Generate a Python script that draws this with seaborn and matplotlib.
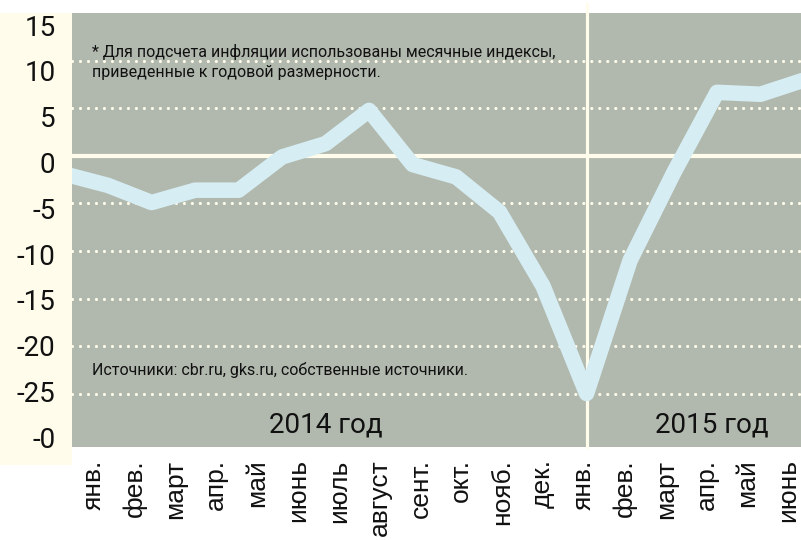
import numpy as np
import pandas as pd
import seaborn as sns
from matplotlib import pyplot as plt

# данные: инфляция по месяцам, 2014-2015
months = ['янв.', 'фев.', 'март', 'апр.', 'май', 'июнь', 'июль', 'август', 'сент.',
          'окт.', 'нояб.', 'дек.', 'янв.', 'фев.', 'март', 'апр.', 'май', 'июнь']
inflation = [-1.9, -3.1, -4.9, -3.6, -3.6, -0.1, 1.3, 4.8, -0.9, -2.2, -5.9, -13.7,
             -25.0, -11.0, -1.8, 6.7, 6.5, 8.0]
grid_levels = [10, 5, -5, -10, -15, -20, -25]
ytick_values = [15, 10, 5, 0, -5, -10, -15, -20, -25, -30]
ytick_labels = ['15', '10', '5', '0', '-5', '-10', '-15', '-20', '-25', '-0']
year_labels = ['2014 год', '2015 год']

bg = '#B1B8AD'
line_color = '#D5EDF3'
cream = '#FFFCEB'
narrow = ['Roboto', 'DejaVu Sans']

sns.set_theme(style='white')
plt.rcParams['font.family'] = ['Liberation Sans', 'DejaVu Sans']

df = pd.DataFrame({'x': np.arange(len(months)), 'value': inflation})

fig = plt.figure(figsize=(8.01, 5.40), dpi=100)

# левая полоса с подписями оси Y
ax_lab = fig.add_axes([0, 75 / 540, 72 / 801, 452 / 540])
ax_lab.set_facecolor(cream)
ax_lab.set_xlim(0, 1)
ax_lab.set_ylim(-32.7, 16.64)
ax_lab.set_xticks([])
ax_lab.set_yticks([])
for s in ax_lab.spines.values():
    s.set_visible(False)
for v, t in zip(ytick_values, ytick_labels):
    ax_lab.text(0.77, v, t, ha='right', va='center', fontsize=20, color='#111111',
                family=narrow)

# основной график
ax = fig.add_axes([72 / 801, 93 / 540, 729 / 801, 434 / 540])
ax.set_facecolor(bg)
for s in ax.spines.values():
    s.set_visible(False)

for g in grid_levels:
    ax.axhline(g, color=cream, lw=2.3, linestyle=(0, (0.001, 2.5)),
               dash_capstyle='round', zorder=1)
ax.axhline(0, color=cream, lw=3, zorder=1)
ax.axvline(12, ymin=0, ymax=1.02, color=cream, lw=2.3, zorder=1, clip_on=False)

sns.lineplot(data=df, x='x', y='value', ax=ax, color=line_color, lw=11.2,
             solid_joinstyle='round', solid_capstyle='round', zorder=3)

ax.set_xlim(0.17, 16.93)
ax.set_ylim(-30.63, 15.05)
ax.set_xlabel('')
ax.set_ylabel('')
ax.set_yticks([])
ax.set_xticks(np.linspace(0.66, 16.64, len(months)))
ax.set_xticklabels(months, rotation=90, fontsize=19, color='#111111')
ax.tick_params(axis='x', length=0, pad=9)

note_font = dict(transform=ax.transAxes, fontsize=11.5, va='center', ha='left',
                 color='#111111', family=['Roboto', 'DejaVu Sans'])
ax.text(0.0274, 0.91, '* Для подсчета инфляции использованы месячные индексы,', **note_font)
ax.text(0.0274, 0.862, 'приведенные к годовой размерности.', **note_font)
ax.text(0.0274, 0.177, 'Источники: cbr.ru, gks.ru, собственные источники.', **note_font)

ax.text(0.348, 0.05, year_labels[0], transform=ax.transAxes, fontsize=20,
        ha='center', va='center', color='#111111', family=narrow)
ax.text(0.877, 0.05, year_labels[1], transform=ax.transAxes, fontsize=20,
        ha='center', va='center', color='#111111', family=narrow)

fig.savefig('out.png', dpi=100)
